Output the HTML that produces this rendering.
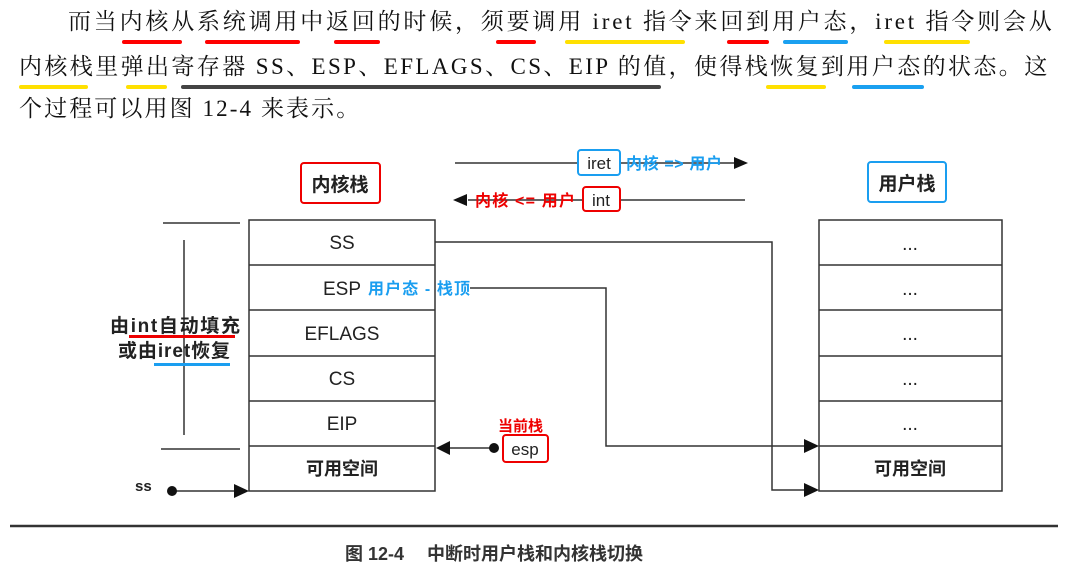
<!DOCTYPE html>
<html><head><meta charset="utf-8"><style>
body{margin:0;width:1077px;height:576px;background:#fff;position:relative;overflow:hidden;font-family:"Liberation Serif","Noto Serif CJK SC",serif;}
.t{position:absolute;white-space:nowrap;font-size:23px;color:#111;line-height:1;}
.u{position:absolute;height:4px;border-radius:2px;}
</style></head><body>
<div class="t" style="left:68px;top:10px;letter-spacing:2.8px">而当内核从系统调用中返回的时候，须要调用 iret 指令来回到用户态，iret 指令则会从</div>
<div class="t" style="left:19px;top:55px;letter-spacing:2.4px">内核栈里弹出寄存器 SS、ESP、EFLAGS、CS、EIP 的值，使得栈恢复到用户态的状态。这</div>
<div class="t" style="left:19px;top:97px;letter-spacing:2.1px">个过程可以用图 12-4 来表示。</div>
<div class="u" style="left:122px;top:40px;width:60px;background:#f00"></div>
<div class="u" style="left:205px;top:40px;width:95px;background:#f00"></div>
<div class="u" style="left:334px;top:40px;width:46px;background:#f00"></div>
<div class="u" style="left:496px;top:40px;width:40px;background:#f00"></div>
<div class="u" style="left:565px;top:40px;width:120px;background:#ffe000"></div>
<div class="u" style="left:727px;top:40px;width:42px;background:#f00"></div>
<div class="u" style="left:783px;top:40px;width:65px;background:#1aa0f0"></div>
<div class="u" style="left:884px;top:40px;width:86px;background:#ffe000"></div>
<div class="u" style="left:19px;top:85px;width:69px;background:#ffe000"></div>
<div class="u" style="left:126px;top:85px;width:41px;background:#ffe000"></div>
<div class="u" style="left:181px;top:85px;width:480px;background:#444"></div>
<div class="u" style="left:766px;top:85px;width:60px;background:#ffe000"></div>
<div class="u" style="left:852px;top:85px;width:72px;background:#1aa0f0"></div>

<svg width="1077" height="576" style="position:absolute;left:0;top:0" font-family="Liberation Sans, Noto Sans CJK SC, sans-serif">
<g stroke="#333" stroke-width="1.5" fill="none">
<rect x="249" y="220" width="186" height="271"/>
<line x1="249" y1="265" x2="435" y2="265"/><line x1="249" y1="310" x2="435" y2="310"/>
<line x1="249" y1="356" x2="435" y2="356"/><line x1="249" y1="401" x2="435" y2="401"/>
<line x1="249" y1="446" x2="435" y2="446"/>
<rect x="819" y="220" width="183" height="271"/>
<line x1="819" y1="265" x2="1002" y2="265"/><line x1="819" y1="310" x2="1002" y2="310"/>
<line x1="819" y1="356" x2="1002" y2="356"/><line x1="819" y1="401" x2="1002" y2="401"/>
<line x1="819" y1="446" x2="1002" y2="446"/>
<polyline points="435,242 772,242 772,490 805,490"/>
<polyline points="470,288 606,288 606,446 805,446"/>
<line x1="455" y1="163" x2="735" y2="163"/>
<line x1="468" y1="200" x2="745" y2="200"/>
<line x1="163" y1="223" x2="240" y2="223"/>
<line x1="161" y1="449" x2="240" y2="449"/>
<line x1="184" y1="240" x2="184" y2="435"/>
<line x1="449" y1="448" x2="494" y2="448"/>
<line x1="172" y1="491" x2="234" y2="491"/>
</g>
<line x1="10" y1="526" x2="1058" y2="526" stroke="#333" stroke-width="2.5"/>
<g fill="#111">
<polygon points="819,490 804,483 804,497"/><polygon points="819,446 804,439 804,453"/>
<polygon points="748,163 734,157 734,169"/><polygon points="453,200 467,194 467,206"/>
<polygon points="436,448 450,441 450,455"/><polygon points="249,491 234,484 234,498"/>
<circle cx="494" cy="448" r="5"/><circle cx="172" cy="491" r="5"/>
</g>
<rect x="301" y="163" width="79" height="40" rx="3" fill="#fff" stroke="#e00" stroke-width="2"/>
<text x="340" y="191" font-size="19" font-weight="bold" text-anchor="middle" fill="#222">内核栈</text>
<rect x="868" y="162" width="78" height="40" rx="3" fill="#fff" stroke="#1a9ef0" stroke-width="2"/>
<text x="907" y="190" font-size="19" font-weight="bold" text-anchor="middle" fill="#222">用户栈</text>
<rect x="578" y="150" width="42" height="25" rx="3" fill="#fff" stroke="#1a9ef0" stroke-width="2"/>
<text x="599" y="169" font-size="17" text-anchor="middle" fill="#222">iret</text>
<text x="626" y="169" font-size="16" font-weight="bold" fill="#1a9ef0" textLength="96">内核 => 用户</text>
<rect x="583" y="187" width="37" height="24" rx="3" fill="#fff" stroke="#e00" stroke-width="2"/>
<text x="601" y="206" font-size="17" text-anchor="middle" fill="#222">int</text>
<text x="475" y="206" font-size="16" font-weight="bold" fill="#e00" textLength="100">内核 &lt;= 用户</text>
<g font-size="19" text-anchor="middle" fill="#222">
<text x="342" y="249">SS</text>
<text x="342" y="295">ESP</text>
<text x="342" y="340">EFLAGS</text>
<text x="342" y="385">CS</text>
<text x="342" y="430">EIP</text>
<text x="342" y="475" font-weight="bold" font-size="18">可用空间</text>
<text x="910" y="475" font-weight="bold" font-size="18">可用空间</text>
<text x="910" y="250">...</text><text x="910" y="295">...</text><text x="910" y="340">...</text>
<text x="910" y="385">...</text><text x="910" y="430">...</text>
</g>
<text x="368" y="294" font-size="16" font-weight="bold" fill="#1a9ef0" textLength="102">用户态 - 栈顶</text>
<text x="498" y="431" font-size="15" font-weight="bold" fill="#e00">当前栈</text>
<rect x="503" y="435" width="45" height="27" rx="3" fill="#fff" stroke="#e00" stroke-width="2"/>
<text x="525" y="455" font-size="17" text-anchor="middle" fill="#222">esp</text>
<text x="110" y="332" font-size="19" font-weight="bold" fill="#222" textLength="130">由int自动填充</text>
<text x="118" y="357" font-size="19" font-weight="bold" fill="#222" textLength="112">或由iret恢复</text>
<rect x="129" y="335" width="106" height="3" fill="#e00"/>
<rect x="154" y="363" width="76" height="3" fill="#1a9ef0"/>
<text x="135" y="491" font-size="15" font-weight="bold" fill="#222">ss</text>
<text x="345" y="560" font-size="18" font-weight="bold" fill="#333">图 12-4　 中断时用户栈和内核栈切换</text>
</svg>
</body></html>
